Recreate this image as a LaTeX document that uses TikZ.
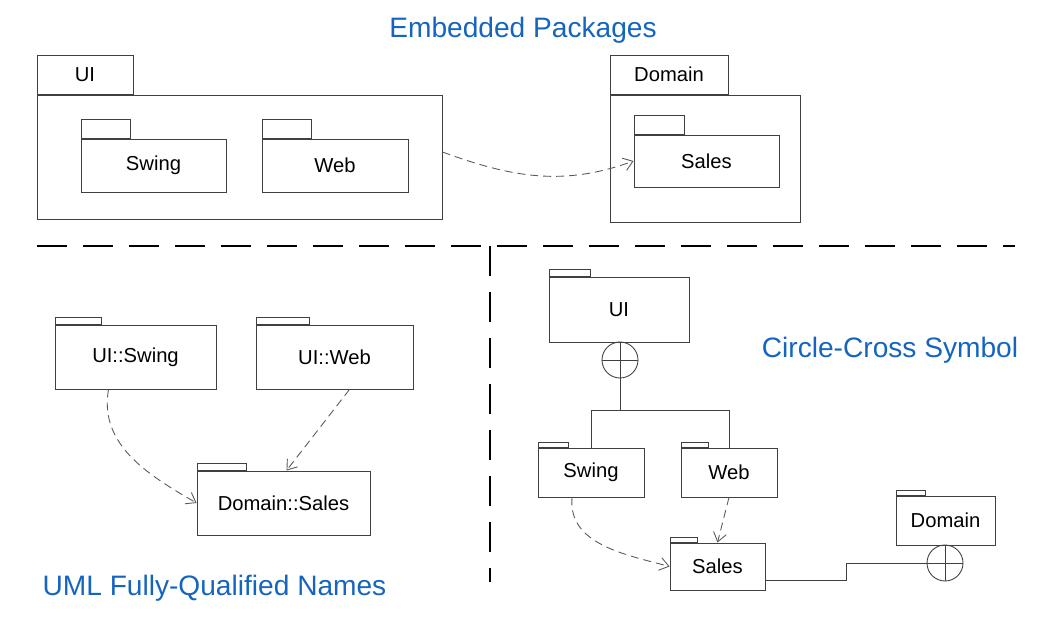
\documentclass[tikz,border=0pt]{standalone}
\usepackage{fontspec}
\setmainfont{Liberation Sans}
\usetikzlibrary{calc,positioning,arrows.meta,shapes}
\definecolor{titleblue}{RGB}{21,101,192}
\newcommand{\pkgfont}{\fontsize{11.5}{14}\selectfont}
\newcommand{\titlefont}{\fontsize{16}{19}\selectfont}
\tikzstyle{pkg} = [draw=black!75, rectangle, inner sep=0pt, font=\pkgfont]
\tikzstyle{pkgtab} = [draw=black!75, rectangle, inner sep=0pt,
    anchor=south west, font=\pkgfont]
\tikzstyle{dep} = [draw=black!65, dash pattern=on 1.6mm off 1mm, ->]
\tikzstyle{title} = [text=titleblue, font=\titlefont]
\tikzstyle{divider} = [line width=1.5pt, dash pattern=on 6mm off 3.2mm]
\tikzstyle{xcircle} = [draw=black!75, circle, minimum size=7.2mm, inner sep=0pt]
\begin{document}
\begin{tikzpicture}[x=0.2mm, y=-0.2mm, line width=0.5pt,
    >={Straight Barb[length=1.8mm,width=2.6mm]}]
\useasboundingbox (0,0) rectangle (1052,626);

% embedded packages
\node[title] (ttlembed) at (523,30) {Embedded Packages};
\node (uibody) [pkg, minimum width=81mm, minimum height=24.8mm] at (239.5,157) {};
\node (uitab) [pkgtab, minimum width=19.2mm, minimum height=7.8mm] at (uibody.north west) {UI};
\node (swing) [pkg, minimum width=29mm, minimum height=10.6mm] at (153.5,165.5) {Swing};
\node (swingtab) [pkgtab, minimum width=9.8mm, minimum height=3.8mm] at (swing.north west) {};
\node (web) [pkg, minimum width=29.2mm, minimum height=10.6mm] at (335,165.5) {Web};
\node (webtab) [pkgtab, minimum width=9.8mm, minimum height=3.8mm] at (web.north west) {};

\node (dombody) [pkg, minimum width=38mm, minimum height=25.4mm] at (705,158.5) {};
\node (domtab) [pkgtab, minimum width=23.6mm, minimum height=7.8mm] at (dombody.north west) {Domain};
\node (sales) [pkg, minimum width=29mm, minimum height=10.4mm] at (706.5,161) {Sales};
\node (salestab) [pkgtab, minimum width=10mm, minimum height=3.8mm] at (sales.north west) {};

\draw[dep] ($(uibody.east)+(0,-5)$) to[out=-20,in=200] (sales.west);

% dividers
\draw[divider] (37,246) -- (1015,246);
\draw[divider] (490,246) -- (490,582);

% fully-qualified names
\node (qswing) [pkg, minimum width=32.2mm, minimum height=12.8mm] at (135.5,357) {UI::Swing};
\node (qswingtab) [pkgtab, minimum width=9.2mm, minimum height=1.4mm] at (qswing.north west) {};
\node (qweb) [pkg, minimum width=31.4mm, minimum height=12.8mm] at (334.5,357) {UI::Web};
\node (qwebtab) [pkgtab, minimum width=10.6mm, minimum height=1.4mm] at (qweb.north west) {};
\node (qsales) [pkg, minimum width=34.6mm, minimum height=12.8mm] at (283.5,503) {Domain::Sales};
\node (qsalestab) [pkgtab, minimum width=9.8mm, minimum height=1.4mm] at (qsales.north west) {};

\draw[dep] ($(qswing.south)+(-27,0)$) to[out=-100,in=150] (qsales.west);
\draw[dep] ($(qweb.south)+(15,0)$) -- ($(qsales.north)+(3,0)$);

\node[title] (ttlfqn) at (214.5,588) {UML Fully-Qualified Names};

% circle-cross symbol
\node[title] (ttlcross) at (890,350) {Circle-Cross Symbol};
\node (cui) [pkg, minimum width=28mm, minimum height=13mm] at (619,309.5) {UI};
\node (cuitab) [pkgtab, minimum width=8.2mm, minimum height=1.4mm] at (cui.north west) {};
\node (cx1) [xcircle] at (620,360) {};
\draw[black!75] (cx1.north) -- (cx1.south) (cx1.west) -- (cx1.east);

\node (cswing) [pkg, minimum width=21.2mm, minimum height=9.8mm] at (591,472.5) {Swing};
\node (cswingtab) [pkgtab, minimum width=6mm, minimum height=1mm] at (cswing.north west) {};
\node (cweb) [pkg, minimum width=19.2mm, minimum height=9.8mm] at (729,472.5) {Web};
\node (cwebtab) [pkgtab, minimum width=5.4mm, minimum height=1mm] at (cweb.north west) {};
\node (csales) [pkg, minimum width=19mm, minimum height=9.4mm] at (717.5,566.5) {Sales};
\node (csalestab) [pkgtab, minimum width=5.4mm, minimum height=1mm] at (csales.north west) {};
\node (cdom) [pkg, minimum width=19.8mm, minimum height=9.8mm] at (945.5,520.5) {Domain};
\node (cdomtab) [pkgtab, minimum width=5.8mm, minimum height=1mm] at (cdom.north west) {};
\node (cx2) [xcircle] at (945,563) {};
\draw[black!75] (cx2.north) -- (cx2.south) (cx2.west) -- (cx2.east);

\draw[black!75] (cx1.south) -- ++(0,32) -| (cswing.north);
\draw[black!75] (cx1.south) -- ++(0,32) -| (cweb.north);
\draw[dep] ($(cswing.south)+(-19,0)$) to[out=-95,in=165] (csales.west);
\draw[dep] (cweb.south) -- (csales.north);
\draw[black!75] ($(csales.south east)+(0,-10)$) -- ++(81,0) |- (cx2.west);

\end{tikzpicture}
\end{document}
